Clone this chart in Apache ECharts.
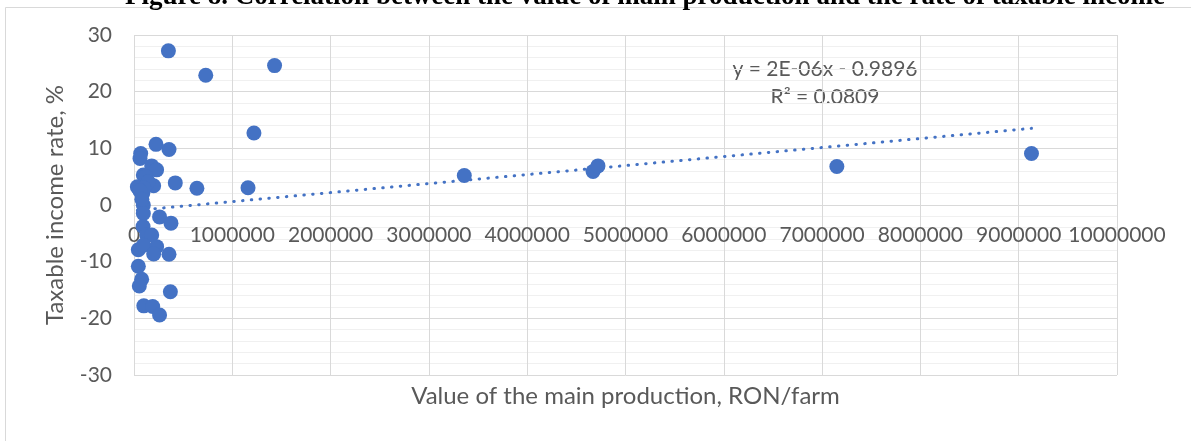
<!DOCTYPE html>
<html>
<head>
<meta charset="utf-8">
<script src="https://cdn.jsdelivr.net/npm/echarts@6/dist/echarts.min.js"></script>
<style>
  html, body { margin: 0; padding: 0; background: #fff; }
  #chart { width: 1191px; height: 441px; }
</style>
</head>
<body>
<div id="chart"></div>
<script>
// Value of the main production, RON/farm
const production = [
  350000, 730000, 1430000, 1220000, 1160000, 640000, 420000, 356000, 224000, 68000,
  61000, 180000, 230000, 95000, 120000, 34000, 200000, 90000, 145000, 100000,
  60000, 95000, 80000, 260000, 376000, 95000, 92000, 130000, 180000, 44000,
  95000, 230000, 200000, 356000, 44000, 78000, 54000, 370000, 100000, 190000,
  260000, 3360000, 4670000, 4720000, 7150000, 9130000
]
// Taxable income rate, %
const incomeRate = [
  27.2, 22.9, 24.6, 12.7, 3.05, 2.95, 3.9, 9.8, 10.7, 9.1,
  8.2, 6.9, 6.2, 5.3, 5.0, 3.2, 3.4, 2.1, 4.1, 3.0,
  2.5, 0, 1.0, -2.1, -3.2, -1.5, -3.8, -5.3, -5.3, -7.9,
  -7.1, -7.35, -8.65, -8.7, -10.8, -13.1, -14.3, -15.3, -17.8, -17.9,
  -19.4, 5.2, 5.9, 6.9, 6.8, 9.1
]

// Linear trendline as labelled in the picture
const trendSlope = 1.59e-6
const trendIntercept = -0.9896
const trendLabel = ['y = 2E-06x - 0.9896', 'R² = 0.0809']

const xTicks = { min: 0, max: 10000000, interval: 1000000 }
const yTicks = { min: -30, max: 30, interval: 10 }

const blue = '#4472C4'
const textColor = '#595959'
const font = 'Lato'

const points = production.map((x, i) => [x, incomeRate[i]])
const xLo = Math.min(...production)
const xHi = Math.max(...production)
const trendPoints = [xLo, xHi].map(x => [x, trendSlope * x + trendIntercept])

const chart = echarts.init(document.getElementById('chart'), null, { renderer: 'canvas' })

// plot area: 0..10M -> x 134..1117, -30..30 -> y 375..35; the x axis sits on y = 0
const plotTop = 35
const plotBottom = 375
const zeroOffset = -(plotBottom - plotTop) / 2

chart.setOption({
  animation: false,
  backgroundColor: '#fff',
  textStyle: { fontFamily: font },
  grid: { left: 134, right: 74, top: plotTop, bottom: 441 - plotBottom, outerBoundsMode: 'none', containLabel: false },
  graphic: [
    {
      type: 'rect',
      shape: { x: 5.5, y: 7.5, width: 1400, height: 600 },
      style: { fill: null, stroke: '#d9d9d9', lineWidth: 1 },
      silent: true
    },
    {
      type: 'text',
      x: 645, y: 11,
      style: {
        text: 'Figure 8. Correlation between the value of main production and the rate of taxable income',
        font: 'bold 27px "Liberation Serif"',
        fill: '#000',
        align: 'center',
        verticalAlign: 'bottom'
      },
      silent: true
    },
    {
      type: 'text',
      x: 825, y: 69,
      style: {
        text: trendLabel[0],
        font: '21px ' + font,
        fill: textColor,
        align: 'center',
        verticalAlign: 'middle'
      }
    },
    {
      type: 'text',
      x: 825, y: 97,
      style: {
        text: trendLabel[1],
        font: '21px ' + font,
        fill: textColor,
        align: 'center',
        verticalAlign: 'middle'
      }
    }
  ],
  xAxis: {
    type: 'value',
    min: xTicks.min,
    max: xTicks.max,
    interval: xTicks.interval,
    position: 'bottom',
    offset: zeroOffset,
    name: 'Value of the main production, RON/farm',
    nameLocation: 'middle',
    nameGap: 179,
    nameTextStyle: { fontSize: 24, color: textColor, fontFamily: font },
    axisLine: { onZero: false, lineStyle: { color: '#d9d9d9', width: 1 } },
    axisTick: { show: false },
    axisLabel: {
      color: textColor,
      fontSize: 21,
      fontFamily: font,
      margin: 20,
      formatter: v => String(v)
    },
    splitLine: { show: true, lineStyle: { color: '#d9d9d9', width: 1 } }
  },
  yAxis: {
    type: 'value',
    min: yTicks.min,
    max: yTicks.max,
    interval: yTicks.interval,
    name: 'Taxable income rate, %',
    nameLocation: 'middle',
    nameGap: 67,
    nameTextStyle: { fontSize: 24, color: textColor, fontFamily: font },
    axisLine: { show: false, onZero: false },
    axisTick: { show: false },
    axisLabel: { color: textColor, fontSize: 21, fontFamily: font, margin: 22 },
    splitLine: { show: true, lineStyle: { color: '#d9d9d9', width: 1 } },
    minorTick: { show: false, splitNumber: 5 },
    minorSplitLine: { show: true, lineStyle: { color: '#f0f0f0', width: 1 } }
  },
  series: [
    {
      type: 'line',
      data: trendPoints,
      showSymbol: false,
      z: 1,
      lineStyle: { color: blue, width: 3, type: [0.5, 8.3], cap: 'round' }
    },
    {
      type: 'scatter',
      data: points,
      symbol: 'circle',
      symbolSize: 15,
      z: 2,
      itemStyle: { color: blue, opacity: 1 }
    }
  ]
})
</script>
</body>
</html>
